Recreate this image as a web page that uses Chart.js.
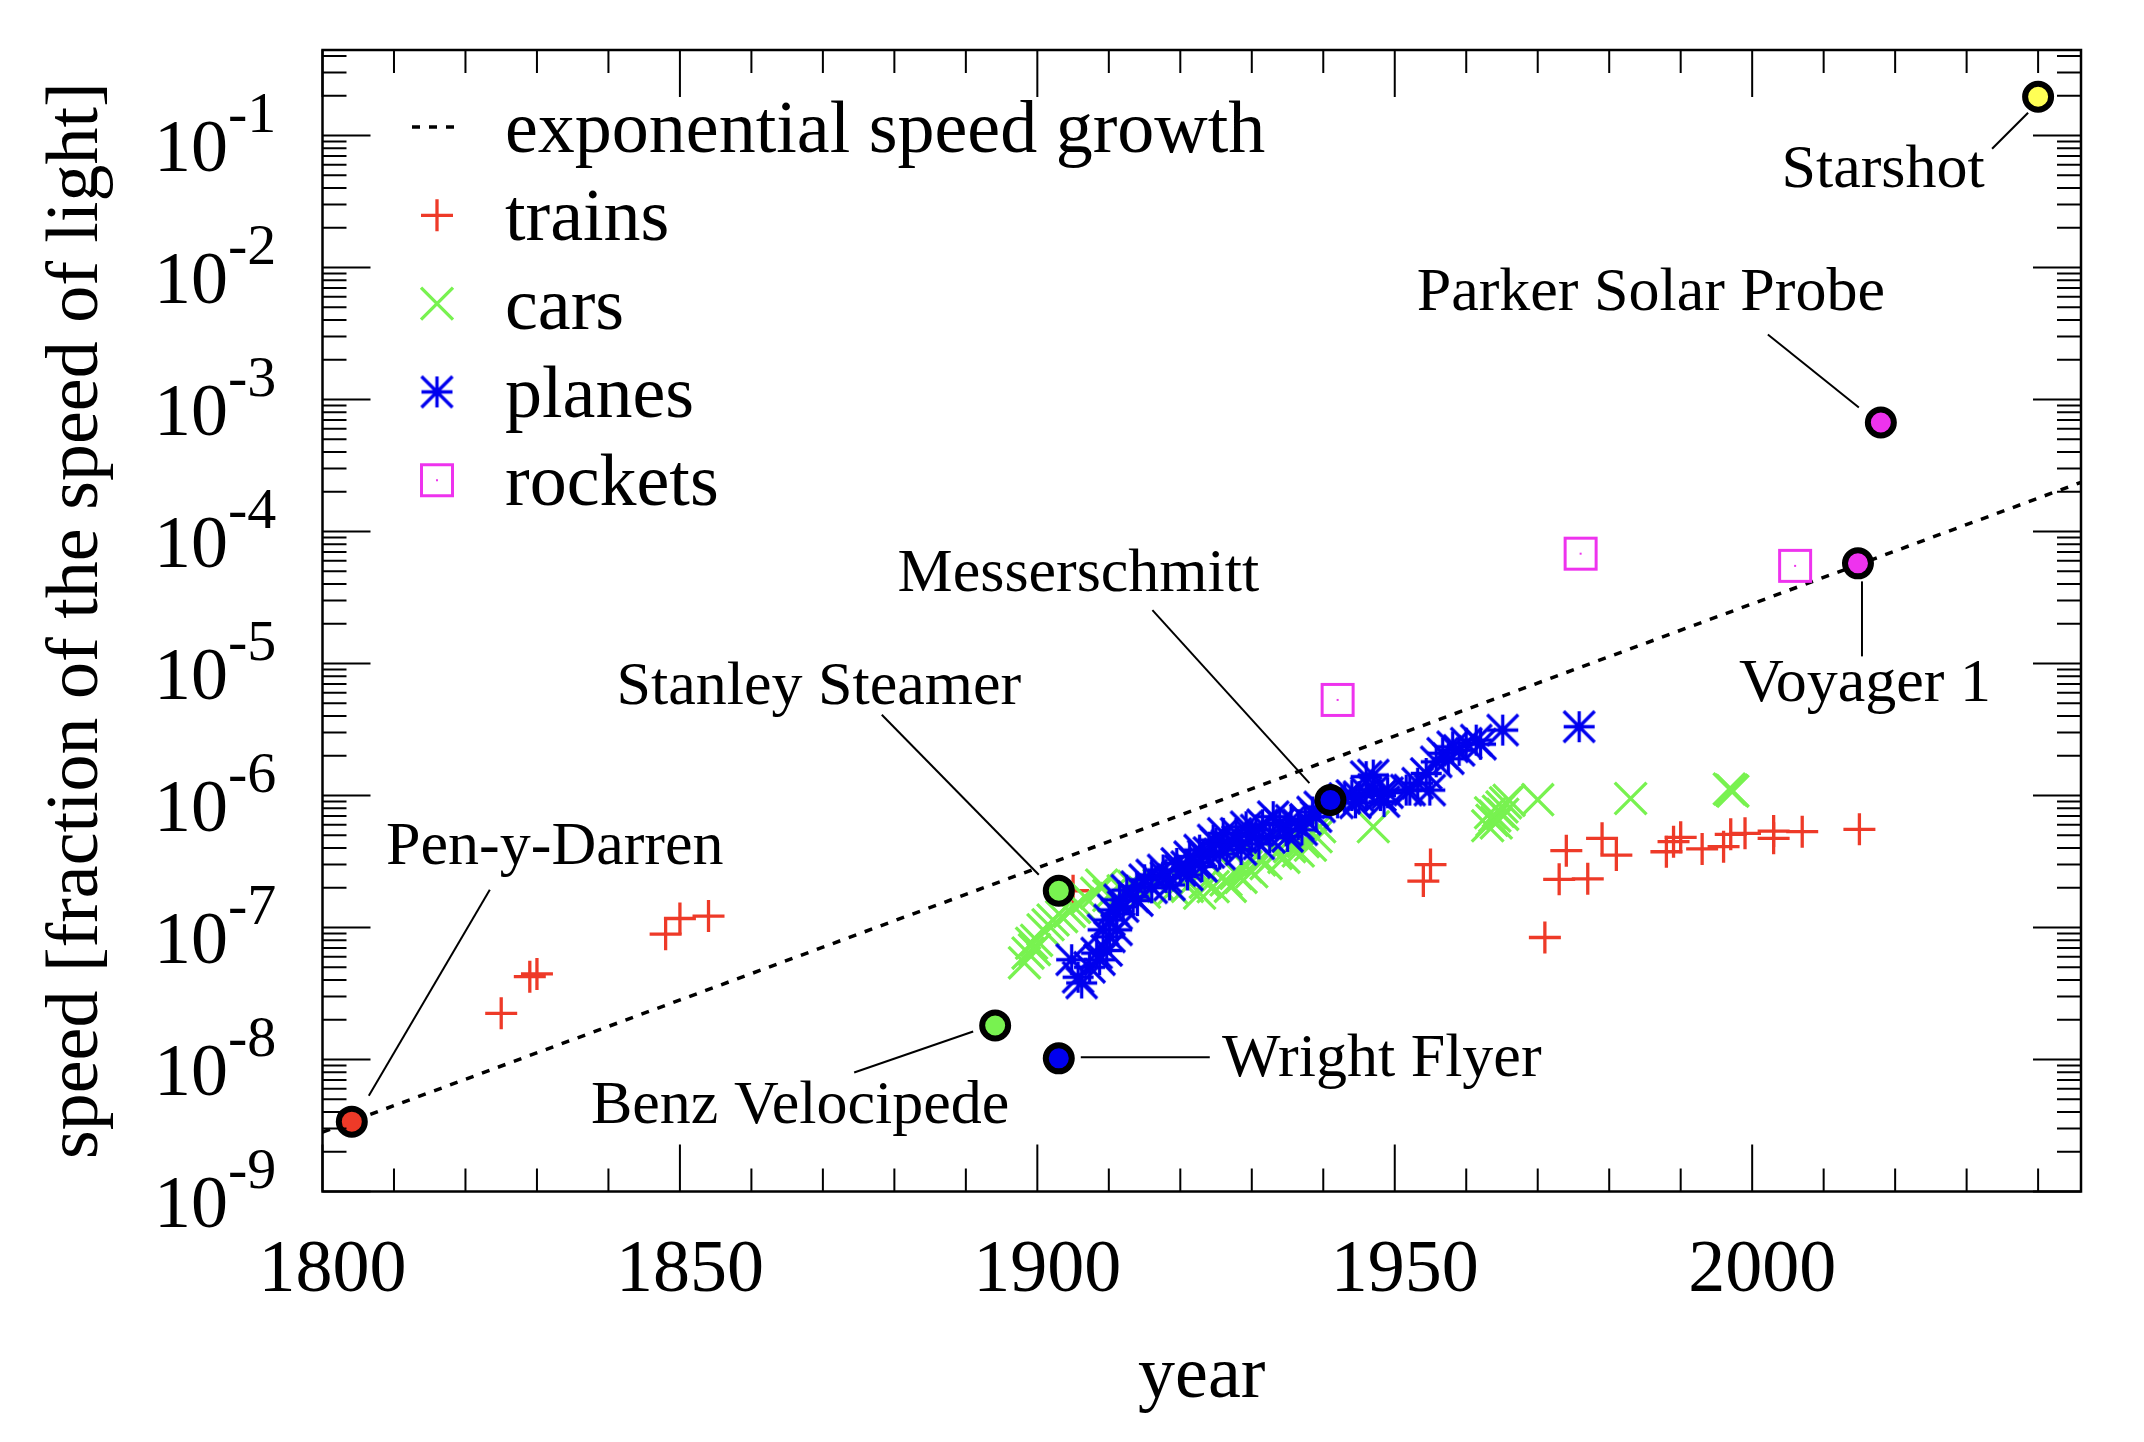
<!DOCTYPE html>
<html>
<head>
<meta charset="utf-8">
<script src="https://cdn.jsdelivr.net/npm/chart.js@4.4.1/dist/chart.umd.min.js"></script>
<style>
  html, body { margin: 0; padding: 0; background: #fff; }
  #wrap { width: 2144px; height: 1442px; }
</style>
</head>
<body>
<div id="wrap"><canvas id="chart" width="2144" height="1442"></canvas></div>
<script>
// Speed records, as a fraction of the speed of light

// exponential growth guide line (two end points, straight on the log axis)
const trendYears = [1800, 2046];
const trendSpeeds = [2.82e-9, 2.36e-4];

const trainYears = [1825, 1829, 1830, 1848, 1850, 1854, 1905, 1954, 1955, 1971, 1973, 1974, 1977,
  1979, 1981, 1988, 1989, 1990, 1993, 1996, 1997, 1999, 2003, 2003, 2007, 2015];
const trainSpeeds = [2.24e-8, 4.24e-8, 4.45e-8, 8.9e-8, 1.17e-7, 1.22e-7, 1.9e-7, 2.25e-7, 3.0e-7,
  8.4e-8, 2.32e-7, 3.82e-7, 2.34e-7, 4.74e-7, 3.54e-7, 3.75e-7, 4.47e-7, 4.82e-7, 3.94e-7, 4.1e-7,
  5.08e-7, 5.17e-7, 5.38e-7, 4.74e-7, 5.32e-7, 5.55e-7];

const carYears = [1898.2, 1898.7, 1899.2, 1899.6, 1899.9, 1900.8, 1901.5, 1902.2, 1903.4, 1904.5,
  1905.2, 1905.7, 1906.9, 1908.3, 1909, 1910, 1912, 1913.5, 1915, 1917, 1919, 1921, 1922.7, 1923.5,
  1924.6, 1926.4, 1927, 1927.8, 1928.5, 1929.2, 1930, 1931.1, 1932, 1933.4, 1934.5, 1935.3, 1936.5,
  1937.2, 1938.2, 1939, 1939.5, 1947, 1963, 1963.4, 1963.6, 1964, 1964.2, 1964.5, 1965, 1965.1,
  1965.5, 1966, 1970, 1983, 1996.8, 1997.1, 1997.3];
const carSpeeds = [5.4e-8, 6.4e-8, 7.6e-8, 6.8e-8, 8.0e-8, 9.6e-8, 1.05e-7, 1.14e-7, 1.21e-7, 1.32e-7,
  1.42e-7, 1.52e-7, 1.66e-7, 1.82e-7, 2.1e-7, 1.75e-7, 1.9e-7, 2.05e-7, 1.85e-7, 2.1e-7, 1.95e-7,
  2.05e-7, 1.82e-7, 2.2e-7, 2.04e-7, 2.29e-7, 2.05e-7, 2.57e-7, 2.4e-7, 2.89e-7, 2.65e-7, 3.25e-7,
  3.05e-7, 3.65e-7, 3.4e-7, 4.09e-7, 3.8e-7, 4.47e-7, 4.2e-7, 4.87e-7, 5.8e-7, 5.8e-7, 5.9e-7,
  7.4e-7, 6.5e-7, 7.0e-7, 6.2e-7, 7.6e-7, 8.2e-7, 7.2e-7, 8.8e-7, 9.2e-7, 9.3e-7, 9.5e-7, 1.12e-6,
  1.1e-6, 1.08e-6];

const planeYears = [1904.8, 1905.7, 1906.2, 1907.3, 1908.3, 1908.7, 1909.2, 1909.7, 1910.1, 1910.1,
  1910.6, 1911.1, 1911.1, 1911.5, 1912, 1912.5, 1913.4, 1913.9, 1914, 1915, 1916, 1916, 1917.6, 1918,
  1918.5, 1919.5, 1920, 1920.9, 1921, 1921.3, 1922, 1922.7, 1923, 1923.2, 1924, 1924.6, 1925, 1925.5,
  1926, 1926.5, 1927.8, 1928, 1928.5, 1929.2, 1930, 1930.6, 1931, 1931.5, 1932.5, 1933, 1933.9,
  1934.8, 1935, 1935.5, 1936.5, 1937, 1937.5, 1938.5, 1939, 1939.5, 1942, 1943, 1944, 1944.5, 1945,
  1946, 1946, 1947, 1947, 1948, 1948.5, 1949, 1951.6, 1952.1, 1953.2, 1954.4, 1954.9, 1955.8,
  1956.7, 1957.5, 1958.1, 1959, 1960, 1961.4, 1962, 1965.1, 1975.8];
const planeSpeeds = [5.7e-8, 4.2e-8, 3.8e-8, 5.0e-8, 6.4e-8, 5.7e-8, 9.6e-8, 6.7e-8, 8.5e-8, 1.14e-7,
  1.36e-7, 9.6e-8, 1.27e-7, 1.62e-7, 1.44e-7, 1.92e-7, 1.71e-7, 2.04e-7, 1.6e-7, 2.3e-7, 2.5e-7,
  2.0e-7, 2.73e-7, 2.4e-7, 2.1e-7, 3.06e-7, 2.7e-7, 2.89e-7, 2.5e-7, 3.44e-7, 3.1e-7, 3.86e-7,
  2.9e-7, 3.5e-7, 3.7e-7, 4.6e-7, 4.34e-7, 3.6e-7, 5.17e-7, 4.2e-7, 5.17e-7, 4.5e-7, 3.9e-7, 5.8e-7,
  4.9e-7, 5.48e-7, 4.3e-7, 6.0e-7, 4.8e-7, 6.92e-7, 6.15e-7, 5.4e-7, 4.9e-7, 6.5e-7, 6.0e-7, 5.5e-7,
  6.6e-7, 7.5e-7, 6.92e-7, 8.2e-7, 8.8e-7, 9.5e-7, 1.0e-6, 8.8e-7, 9.8e-7, 1.05e-6, 1.39e-6, 1.1e-6,
  1.43e-6, 1.0e-6, 9.0e-7, 1.05e-6, 1.1e-6, 1.1e-6, 1.24e-6, 1.47e-6, 1.1e-6, 1.8e-6, 2.09e-6,
  1.9e-6, 2.34e-6, 2.2e-6, 2.49e-6, 2.63e-6, 2.45e-6, 3.13e-6, 3.32e-6];

const rocketYears = [1942, 1976, 2006];
const rocketSpeeds = [5.3e-6, 6.8e-5, 5.5e-5];

const milestoneNames = ['Pen-y-Darren', 'Benz Velocipede', 'Wright Flyer', 'Stanley Steamer',
  'Messerschmitt', 'Voyager 1', 'Parker Solar Probe', 'Starshot'];
const milestoneYears = [1804.1, 1894.1, 1903, 1903, 1941, 2014.8, 2018, 2040];
const milestoneSpeeds = [3.38e-9, 1.81e-8, 1.02e-8, 1.9e-7, 9.24e-7, 5.74e-5, 6.7e-4, 0.197];

const xTickLabels = [1800, 1850, 1900, 1950, 2000];
const yTickExponents = [-9, -8, -7, -6, -5, -4, -3, -2, -1];

const legendLabels = ['exponential speed growth', 'trains', 'cars', 'planes', 'rockets'];

// colours and label placement
const RED = '#ee3a28';
const GREEN = '#78f250';
const BLUE = '#0000ee';
const MAGENTA = '#ee33ee';
const milestoneFill = [RED, GREEN, BLUE, GREEN, BLUE, MAGENTA, MAGENTA, '#ffff55'];
// label centre / baseline offset and leader line ends, in pixels from the marker
const milestoneLabelPos = [
  { dx: 203, dy: -258, line: [17, -26, 138, -232] },
  { dx: -195, dy: 98, line: [-141, 47, -22, 6] },
  { dx: 323, dy: 18, line: [22, -1, 151, -1] },
  { dx: -240, dy: -187, line: [-177, -176, -20, -16] },
  { dx: -252, dy: -209, line: [-178, -190, -21, -17] },
  { dx: 7, dy: 138, line: [4, 18, 4, 93] },
  { dx: -230, dy: -113, line: [-113, -88, -22, -15] },
  { dx: -155, dy: 90, line: [-46, 52, -10, 16] }
];

const FONT = '"Liberation Serif", "Times New Roman", serif';
const MARK_W = 3.3;

function pts(xs, ys) {
  return xs.map((v, i) => ({ x: v, y: ys[i] }));
}

// gnuplot style marker images
function starMarker(r, lw, color) {
  const s = Math.ceil(2 * r + lw + 2);
  const c = document.createElement('canvas');
  c.width = s; c.height = s;
  const g = c.getContext('2d');
  const m = s / 2;
  g.strokeStyle = color; g.lineWidth = lw;
  g.beginPath();
  g.moveTo(m - r, m); g.lineTo(m + r, m);
  g.moveTo(m, m - r); g.lineTo(m, m + r);
  g.moveTo(m - r, m - r); g.lineTo(m + r, m + r);
  g.moveTo(m - r, m + r); g.lineTo(m + r, m - r);
  g.stroke();
  return c;
}

function boxMarker(r, lw, color) {
  const s = Math.ceil(2 * r + lw + 2);
  const c = document.createElement('canvas');
  c.width = s; c.height = s;
  const g = c.getContext('2d');
  const m = s / 2;
  g.strokeStyle = color; g.lineWidth = lw;
  g.strokeRect(m - r, m - r, 2 * r, 2 * r);
  g.fillStyle = color;
  g.fillRect(m - 1, m - 1, 2, 2);
  return c;
}

const starImg = starMarker(15.5, MARK_W, BLUE);
const boxImg = boxMarker(15.5, 3, MAGENTA);

function drawText(ctx, str, x, y, size, align) {
  ctx.font = size + 'px ' + FONT;
  ctx.textAlign = align;
  ctx.textBaseline = 'alphabetic';
  ctx.fillStyle = '#000';
  ctx.fillText(str, x, y);
}

const framePlugin = {
  id: 'frame',
  afterDatasetsDraw(chart) {
    const { ctx, chartArea: a, scales: { x, y } } = chart;
    ctx.save();
    ctx.strokeStyle = '#000';
    ctx.lineWidth = 2;
    ctx.beginPath();
    for (let yr = 1800; yr <= x.max; yr += 10) {
      const px = x.getPixelForValue(yr);
      const len = yr % 50 === 0 ? 47 : 23;
      ctx.moveTo(px, a.bottom); ctx.lineTo(px, a.bottom - len);
      ctx.moveTo(px, a.top); ctx.lineTo(px, a.top + len);
    }
    for (let e = -9; e <= 0; e++) {
      for (let m = 1; m <= 9; m++) {
        const v = m * Math.pow(10, e);
        if (v < y.min * 0.999 || v > y.max) continue;
        const py = y.getPixelForValue(v);
        const len = m === 1 ? 48 : 24;
        ctx.moveTo(a.left, py); ctx.lineTo(a.left + len, py);
        ctx.moveTo(a.right, py); ctx.lineTo(a.right - len, py);
      }
    }
    ctx.stroke();
    ctx.lineWidth = 2.5;
    ctx.strokeRect(a.left, a.top, a.right - a.left, a.bottom - a.top);

    // tick labels
    xTickLabels.forEach(v => {
      drawText(ctx, String(v), x.getPixelForValue(v) + 10, 1291, 74, 'center');
    });
    yTickExponents.forEach(e => {
      const py = y.getPixelForValue(Math.pow(10, e));
      drawText(ctx, '10', 154, py + 35, 74, 'left');
      drawText(ctx, String(e), 228, py - 4, 58, 'left');
    });

    // axis titles
    drawText(ctx, 'year', (a.left + a.right) / 2, 1397, 74, 'center');
    ctx.save();
    ctx.translate(97, (a.top + a.bottom) / 2);
    ctx.rotate(-Math.PI / 2);
    drawText(ctx, 'speed [fraction of the speed of light]', 0, 0, 74, 'center');
    ctx.restore();
    ctx.restore();
  },
  afterDraw(chart) {
    const { ctx, scales: { x, y } } = chart;
    ctx.save();
    // milestone labels with leader lines
    ctx.strokeStyle = '#000';
    ctx.lineWidth = 2;
    milestoneNames.forEach((name, i) => {
      const px = x.getPixelForValue(milestoneYears[i]);
      const py = y.getPixelForValue(milestoneSpeeds[i]);
      const p = milestoneLabelPos[i];
      ctx.beginPath();
      ctx.moveTo(px + p.line[0], py + p.line[1]);
      ctx.lineTo(px + p.line[2], py + p.line[3]);
      ctx.stroke();
      drawText(ctx, name, px + p.dx, py + p.dy, 62, 'center');
    });

    // key
    const sx = 437, tx = 505, y0 = 127, step = 88.3;
    legendLabels.forEach((lab, i) => {
      const cy = y0 + i * step;
      drawText(ctx, lab, tx, cy + 25, 74, 'left');
    });
    ctx.lineWidth = 3.5;
    ctx.setLineDash([8, 9]);
    ctx.beginPath();
    ctx.moveTo(sx - 25, y0); ctx.lineTo(sx + 18, y0);
    ctx.stroke();
    ctx.setLineDash([]);
    ctx.lineWidth = MARK_W;
    // trains +
    let cy = y0 + step;
    ctx.strokeStyle = RED;
    ctx.beginPath();
    ctx.moveTo(sx - 16, cy); ctx.lineTo(sx + 16, cy);
    ctx.moveTo(sx, cy - 16); ctx.lineTo(sx, cy + 16);
    ctx.stroke();
    // cars x
    cy = y0 + 2 * step;
    ctx.strokeStyle = GREEN;
    ctx.beginPath();
    ctx.moveTo(sx - 16, cy - 16); ctx.lineTo(sx + 16, cy + 16);
    ctx.moveTo(sx - 16, cy + 16); ctx.lineTo(sx + 16, cy - 16);
    ctx.stroke();
    // planes and rockets
    cy = y0 + 3 * step;
    ctx.drawImage(starImg, sx - starImg.width / 2, cy - starImg.height / 2);
    cy = y0 + 4 * step;
    ctx.drawImage(boxImg, sx - boxImg.width / 2, cy - boxImg.height / 2);
    ctx.restore();
  }
};

new Chart(document.getElementById('chart'), {
  type: 'scatter',
  data: {
    datasets: [
      {
        label: 'milestones',
        data: pts(milestoneYears, milestoneSpeeds),
        pointStyle: 'circle',
        pointRadius: 13,
        pointBackgroundColor: milestoneFill,
        pointBorderColor: '#000',
        pointBorderWidth: 6,
        order: 0
      },
      {
        label: 'rockets',
        data: pts(rocketYears, rocketSpeeds),
        pointStyle: boxImg,
        order: 1
      },
      {
        label: 'planes',
        data: pts(planeYears, planeSpeeds),
        pointStyle: starImg,
        order: 2
      },
      {
        label: 'cars',
        data: pts(carYears, carSpeeds),
        pointStyle: 'crossRot',
        pointRadius: 22.5,
        pointBorderColor: GREEN,
        pointBorderWidth: MARK_W,
        order: 3
      },
      {
        label: 'trains',
        data: pts(trainYears, trainSpeeds),
        pointStyle: 'cross',
        pointRadius: 16,
        pointBorderColor: RED,
        pointBorderWidth: MARK_W,
        order: 4
      },
      {
        label: 'exponential speed growth',
        data: pts(trendYears, trendSpeeds),
        showLine: true,
        borderColor: '#000',
        borderWidth: 3.5,
        borderDash: [8, 9],
        pointRadius: 0,
        order: 5
      }
    ]
  },
  options: {
    responsive: false,
    devicePixelRatio: 1,
    animation: false,
    events: [],
    layout: { padding: { left: 0, right: 63, top: 50, bottom: 0 } },
    plugins: { legend: { display: false }, tooltip: { enabled: false } },
    scales: {
      x: {
        type: 'linear',
        min: 1800,
        max: 2046,
        grid: { display: false },
        border: { display: false },
        ticks: { display: false },
        afterFit: s => { s.height = 250.5; }
      },
      y: {
        type: 'logarithmic',
        min: 1e-9,
        max: 0.445,
        grid: { display: false },
        border: { display: false },
        ticks: { display: false },
        afterFit: s => { s.width = 322.5; }
      }
    }
  },
  plugins: [framePlugin]
});
</script>
</body>
</html>
